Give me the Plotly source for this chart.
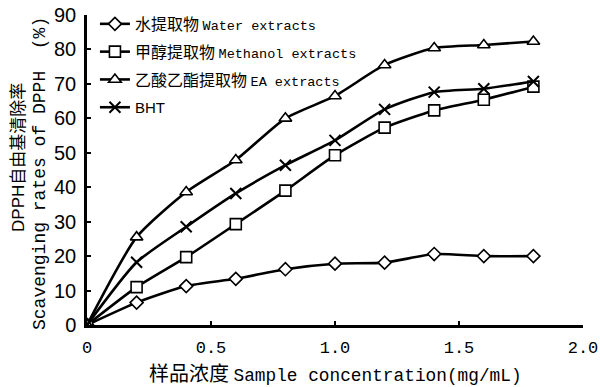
import plotly.graph_objects as go

conc = [0, 0.2, 0.4, 0.6, 0.8, 1.0, 1.2, 1.4, 1.6, 1.8]
water = [0, 6.5, 11.3, 13.4, 16.2, 17.8, 18.1, 20.6, 20.0, 20.0]
methanol = [0, 11.0, 19.7, 29.3, 39.0, 49.3, 57.3, 62.3, 65.4, 69.2]
ea = [0, 25.5, 38.6, 47.9, 60.0, 66.5, 75.5, 80.4, 81.3, 82.3]
bht = [0, 18.2, 28.5, 38.2, 46.4, 53.6, 62.6, 67.6, 68.6, 70.7]

x_tickvals = [0, 0.5, 1.0, 1.5, 2.0]
x_ticktext = ["0", "0.5", "1.0", "1.5", "2.0"]
y_tickvals = [0, 10, 20, 30, 40, 50, 60, 70, 80, 90]

MONO = "font-family:'Liberation Mono';font-size:{}px"

def lat(s, size):
    return "<span style=\"" + MONO.format(size) + "\">" + s + "</span>"

names = [
    "水提取物 " + lat("Water extracts", 13.5),
    "甲醇提取物 " + lat("Methanol extracts", 13.5),
    "乙酸乙酯提取物 " + lat("EA extracts", 13.5),
    "<span style=\"font-family:'Liberation Sans Narrow','Liberation Sans';font-size:15px\">BHT</span>",
]
series = [water, methanol, ea, bht]
symbols = ["diamond", "square", "triangle-up", "x-thin-open"]
sizes = [10, 11, 11, 11]

fig = go.Figure()
for i, (nm, ys, sym, sz) in enumerate(zip(names, series, symbols, sizes)):
    if sym == "x-thin-open":
        marker = dict(symbol=sym, size=sz, color="black", line=dict(color="black", width=2))
    else:
        marker = dict(symbol=sym, size=sz, color="white", line=dict(color="black", width=1.6))
    fig.add_trace(go.Scatter(
        x=conc, y=ys, name=nm, mode="lines+markers",
        line=dict(color="black", width=2.6, shape="spline", smoothing=0.6),
        marker=marker, legendgroup="g%d" % i,
    ))

fig.update_layout(
    width=600, height=387,
    margin=dict(l=87, r=17, t=15, b=62, autoexpand=False),
    plot_bgcolor="white", paper_bgcolor="white",
    font=dict(family="Noto Sans CJK SC", color="black", size=16),
    showlegend=True,
    legend=dict(
        x=0.016, y=1.026, xanchor="left", yanchor="top",
        bgcolor="rgba(0,0,0,0)", traceorder="grouped", tracegroupgap=4,
        font=dict(family="Noto Sans CJK SC", size=16, color="black"),
        itemwidth=30,
    ),
    xaxis=dict(
        range=[0, 2.0], tickvals=x_tickvals, ticktext=x_ticktext,
        showgrid=False, zeroline=False, showline=True, linecolor="black", linewidth=2.5,
        ticks="inside", ticklen=4, tickwidth=2, tickcolor="black",
        tickfont=dict(family="Liberation Mono", size=17, color="black"),
        ticklabelstandoff=5, automargin=False,
    ),
    yaxis=dict(
        range=[0, 90], tickvals=y_tickvals,
        showgrid=False, zeroline=False, showline=True, linecolor="black", linewidth=2.5,
        ticks="inside", ticklen=4, tickwidth=2, tickcolor="black",
        tickfont=dict(family="Liberation Sans", size=20, color="black"),
        ticklabelstandoff=4, automargin=False,
    ),
)

fig.add_annotation(
    text="样品浓度 " + lat("Sample concentration(mg/mL)", 17.8),
    xref="paper", yref="paper", x=0.5, y=0, yshift=-47,
    xanchor="center", yanchor="middle", showarrow=False,
    font=dict(family="Noto Sans CJK SC", size=20, color="black"),
)
fig.add_annotation(
    text="<span style=\"font-family:'Liberation Sans'\">DPPH</span>自由基清除率",
    xref="paper", yref="paper", x=0, xshift=-70, y=0.539,
    xanchor="center", yanchor="middle", textangle=-90, showarrow=False,
    font=dict(family="Noto Sans CJK SC", size=17, color="black"),
)
fig.add_annotation(
    text="Scavenging rates of DPPH  (%)",
    xref="paper", yref="paper", x=0, xshift=-47, y=0.487,
    xanchor="center", yanchor="middle", textangle=-90, showarrow=False,
    font=dict(family="Liberation Mono", size=18, color="black"),
)

fig.write_html(
    "out.html",
    config={"displayModeBar": False},
    post_script="document.body.style.margin='0';document.body.style.padding='0';document.body.style.overflow='hidden';",
)
